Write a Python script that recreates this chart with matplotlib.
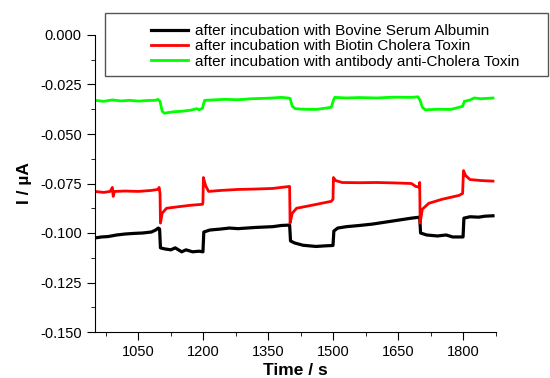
import matplotlib
matplotlib.use('Agg')
import matplotlib.pyplot as plt
from matplotlib.ticker import MultipleLocator
from matplotlib.patches import Rectangle

plt.rcParams['font.family'] = ['Liberation Sans', 'DejaVu Sans']

# green: after antibody anti-Cholera Toxin
t_green = [950, 970, 990, 1010, 1030, 1050, 1070, 1090, 1095, 1100, 1105, 1110, 1130, 1150,
           1170, 1185, 1190, 1198, 1200, 1203, 1220, 1250, 1280, 1310, 1340, 1360, 1380, 1395,
           1400, 1405, 1412, 1430, 1460, 1480, 1495, 1500, 1503, 1530, 1560, 1600, 1640, 1680,
           1695, 1700, 1705, 1712, 1740, 1770, 1785, 1798, 1802, 1815, 1825, 1840, 1855, 1868]
i_green = [-0.0330, -0.0335, -0.0328, -0.0333, -0.0330, -0.0334, -0.0331, -0.0330, -0.0325,
           -0.0335, -0.0385, -0.0395, -0.0388, -0.0385, -0.0380, -0.0372, -0.0378, -0.0370,
           -0.0350, -0.0330, -0.0328, -0.0325, -0.0327, -0.0322, -0.0320, -0.0318, -0.0315,
           -0.0318, -0.0320, -0.0360, -0.0372, -0.0375, -0.0376, -0.0370, -0.0365, -0.0330,
           -0.0315, -0.0318, -0.0316, -0.0318, -0.0314, -0.0315, -0.0312, -0.0330, -0.0365,
           -0.0378, -0.0375, -0.0376, -0.0368, -0.0360, -0.0335, -0.0328, -0.0318, -0.0322,
           -0.0320, -0.0318]

# red: after Biotin Cholera Toxin
t_red = [950, 970, 985, 990, 992, 995, 1020, 1050, 1080, 1095, 1098, 1100, 1101, 1105, 1115,
         1140, 1170, 1198, 1199, 1200, 1205, 1212, 1240, 1280, 1320, 1360, 1398, 1399, 1400,
         1405, 1415, 1450, 1495, 1499, 1500, 1505, 1520, 1560, 1600, 1640, 1680, 1690, 1698,
         1699, 1700, 1705, 1720, 1750, 1790, 1798, 1800, 1805, 1815, 1840, 1868]
i_red = [-0.0790, -0.0795, -0.0790, -0.0770, -0.0815, -0.0790, -0.0788, -0.0790, -0.0785,
         -0.0780, -0.0770, -0.0800, -0.0950, -0.0900, -0.0875, -0.0868, -0.0860, -0.0855,
         -0.0845, -0.0720, -0.0760, -0.0790, -0.0785, -0.0780, -0.0778, -0.0775, -0.0765,
         -0.0765, -0.0950, -0.0900, -0.0875, -0.0860, -0.0840, -0.0830, -0.0720, -0.0735,
         -0.0745, -0.0746, -0.0745, -0.0747, -0.0750, -0.0765, -0.0768, -0.0745, -0.0950,
         -0.0880, -0.0850, -0.0830, -0.0810, -0.0800, -0.0685, -0.0710, -0.0730, -0.0735,
         -0.0738]

# black: after Bovine Serum Albumin
t_black = [950, 965, 980, 1000, 1020, 1040, 1060, 1080, 1090, 1096, 1099, 1101, 1110, 1125,
           1135, 1150, 1160, 1175, 1190, 1199, 1201, 1215, 1240, 1260, 1280, 1320, 1360, 1380,
           1399, 1401, 1410, 1430, 1460, 1480, 1499, 1501, 1510, 1530, 1560, 1590, 1620, 1650,
           1680, 1699, 1701, 1715, 1740, 1760, 1775, 1799, 1801, 1815, 1835, 1850, 1868]
i_black = [-0.1025, -0.1020, -0.1018, -0.1010, -0.1005, -0.1002, -0.1000, -0.0995, -0.0985,
           -0.0975, -0.0980, -0.1075, -0.1080, -0.1085, -0.1075, -0.1095, -0.1085, -0.1095,
           -0.1092, -0.1095, -0.0995, -0.0985, -0.0980, -0.0975, -0.0978, -0.0972, -0.0968,
           -0.0962, -0.0960, -0.1040, -0.1050, -0.1062, -0.1068, -0.1065, -0.1063, -0.0990,
           -0.0975, -0.0968, -0.0962, -0.0955, -0.0945, -0.0935, -0.0925, -0.0920, -0.1000,
           -0.1010, -0.1015, -0.1010, -0.1020, -0.1020, -0.0925, -0.0918, -0.0920, -0.0915,
           -0.0913]

labels = ['after incubation with Bovine Serum Albumin',
          'after incubation with Biotin Cholera Toxin',
          'after incubation with antibody anti-Cholera Toxin']

fig = plt.figure(figsize=(5.5, 3.78), dpi=100)
ax = fig.add_axes([95/550, 1-332/378, (496-95)/550, (332-35)/378])

ax.plot(t_black, i_black, color='black', lw=2.3, label=labels[0])
ax.plot(t_red, i_red, color='red', lw=2, label=labels[1])
ax.plot(t_green, i_green, color='#00ff00', lw=2, label=labels[2])

ax.set_xlim(950, 1875)
ax.set_ylim(-0.15, 0.0)
ax.xaxis.set_major_locator(MultipleLocator(150))
ax.xaxis.set_minor_locator(MultipleLocator(75))
ax.yaxis.set_major_locator(MultipleLocator(0.025))
ax.yaxis.set_minor_locator(MultipleLocator(0.0125))
ax.set_xticks([1050, 1200, 1350, 1500, 1650, 1800])
ax.yaxis.set_major_formatter(plt.FuncFormatter(lambda v, p: f'{v:.3f}'))
ax.tick_params(which='both', direction='out', labelsize=10.5)
ax.tick_params(which='major', length=6)
ax.tick_params(which='minor', length=3)
ax.spines['top'].set_visible(False)
ax.spines['right'].set_visible(False)

ax.set_xlabel('Time / s', fontsize=12.5, fontweight='bold', labelpad=3)
ax.set_ylabel('I / µA', fontsize=12.5, fontweight='bold', labelpad=6)

leg = ax.legend(loc='upper left', bbox_to_anchor=(145/550, 1-18/378),
                bbox_transform=fig.transFigure, frameon=False, fontsize=11,
                handlelength=2.4, handletextpad=0.45, labelspacing=0.08, borderaxespad=0)
fig.patches.append(Rectangle((105/550, 1-76/378), 443/550, 63/378, transform=fig.transFigure,
                             fill=False, edgecolor='#555555', lw=1))

fig.savefig('out.png', dpi=100)
